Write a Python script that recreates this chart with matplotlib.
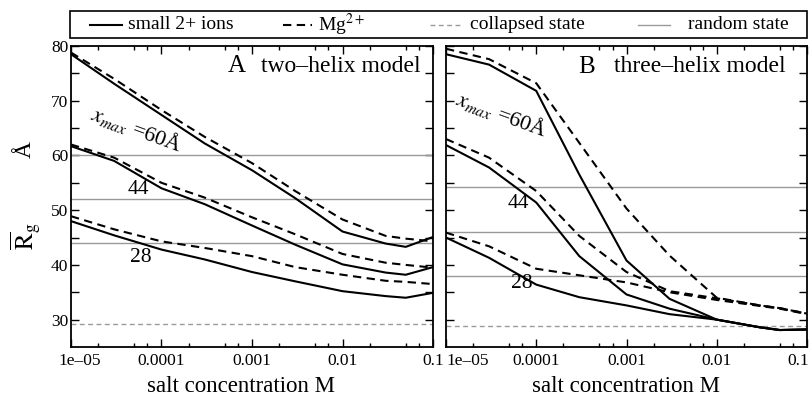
import matplotlib
matplotlib.use("Agg")
import matplotlib.pyplot as plt
import matplotlib.transforms as mtransforms
from matplotlib.lines import Line2D
from matplotlib.patches import Rectangle
from matplotlib.ticker import FixedLocator, NullFormatter, LogLocator

plt.rcParams['font.family'] = ['Liberation Serif', 'DejaVu Serif']
plt.rcParams['mathtext.fontset'] = 'stix'

# ---------------- data ----------------
salt = [1e-5, 3e-5, 1e-4, 3e-4, 1e-3, 3e-3, 1e-2, 3e-2, 5e-2, 1e-1]
xtick_vals = [1e-5, 1e-4, 1e-3, 1e-2, 1e-1]
xtick_labels = ['1e\u201305', '0.0001', '0.001', '0.01', '0.1']
ytick_vals = [30, 40, 50, 60, 70, 80]

# panel A: two-helix model
A_small_60 = [78.5, 73.1, 67.4, 62.2, 57.3, 52.2, 46.1, 43.9, 43.3, 45.1]
A_mg_60 = [78.8, 74.0, 68.3, 63.4, 58.6, 53.5, 48.3, 45.3, 44.8, 44.3]
A_small_44 = [61.7, 59.0, 54.0, 51.1, 47.2, 43.7, 40.1, 38.6, 38.2, 39.6]
A_mg_44 = [62.0, 59.6, 55.0, 52.3, 48.7, 45.6, 42.0, 40.4, 40.0, 39.5]
A_small_28 = [48.0, 45.4, 42.8, 41.0, 38.7, 37.0, 35.2, 34.3, 34.0, 34.9]
A_mg_28 = [48.9, 46.5, 44.3, 43.1, 41.6, 39.6, 38.2, 37.1, 36.9, 36.5]
A_random = [60.0, 52.0, 44.0]
A_collapsed = 29.2

# panel B: three-helix model
B_small_60 = [78.5, 76.6, 71.8, 56.5, 40.8, 33.8, 30.0, 28.6, 28.1, 28.2]
B_mg_60 = [79.5, 77.6, 73.2, 62.3, 50.3, 41.7, 34.0, 32.6, 32.1, 31.1]
B_small_44 = [61.9, 57.8, 51.4, 41.6, 34.6, 32.0, 30.0, 28.6, 28.1, 28.2]
B_mg_44 = [63.0, 59.6, 53.5, 45.3, 38.7, 35.2, 33.9, 32.6, 32.1, 31.1]
B_small_28 = [45.0, 41.3, 36.4, 34.1, 32.6, 31.0, 30.0, 28.6, 28.1, 28.2]
B_mg_28 = [45.9, 43.4, 39.3, 38.1, 36.8, 35.0, 33.6, 32.5, 32.0, 31.0]
B_random = [54.2, 46.1, 38.0]
B_collapsed = 28.8

legend_labels = ['small 2+ ions', 'Mg$^{2+}$', 'collapsed state', 'random state']

# ---------------- styles ----------------
W, H = 809, 400
solid_kw = dict(color='black', lw=1.5, ls='-')
dash_kw = dict(color='black', lw=1.5, ls=(0, (4.0, 2.6)))
rand_kw = dict(color='#9a9a9a', lw=1.0, ls='-')
coll_kw = dict(color='#9a9a9a', lw=1.0, ls=(0, (3.5, 2.5)))
styles = [solid_kw, dash_kw, coll_kw, rand_kw]

fig = plt.figure(figsize=(W / 100, H / 100), dpi=100)
axA = fig.add_axes([71 / W, 53 / H, 362 / W, 301 / H])
axB = fig.add_axes([446 / W, 53 / H, 361 / W, 301 / H])


def setup(ax, show_ylabels):
    ax.set_xscale('log')
    ax.set_xlim(1e-5, 1e-1)
    ax.set_ylim(25, 80)
    ax.xaxis.set_major_locator(FixedLocator(xtick_vals))
    ax.set_xticklabels(xtick_labels, fontsize=12.5)
    ax.xaxis.set_minor_locator(LogLocator(base=10, subs=(2, 5, 7), numticks=20))
    ax.xaxis.set_minor_formatter(NullFormatter())
    ax.yaxis.set_major_locator(FixedLocator(ytick_vals))
    ax.yaxis.set_minor_locator(FixedLocator([35, 45, 55, 65, 75]))
    if show_ylabels:
        ax.set_yticklabels([str(v) for v in ytick_vals], fontsize=12.5)
    else:
        ax.set_yticklabels([])
    ax.tick_params(which='both', direction='in', top=True, right=True, width=1.0)
    ax.tick_params(axis='x', which='major', length=6, pad=4)
    ax.tick_params(axis='x', which='minor', length=3)
    ax.tick_params(axis='y', which='both', length=6, pad=2)
    for s in ax.spines.values():
        s.set_linewidth(1.3)
    ax.set_xlabel('salt concentration M', fontsize=16.5)


setup(axA, True)
setup(axB, False)

# panel A
for yv in A_random:
    axA.axhline(yv, **rand_kw)
axA.axhline(A_collapsed, **coll_kw)
for s_, m_ in [(A_small_60, A_mg_60), (A_small_44, A_mg_44), (A_small_28, A_mg_28)]:
    axA.plot(salt, s_, **solid_kw)
    axA.plot(salt, m_, **dash_kw)

# panel B
for yv in B_random:
    axB.axhline(yv, **rand_kw)
axB.axhline(B_collapsed, **coll_kw)
for s_, m_ in [(B_small_60, B_mg_60), (B_small_44, B_mg_44), (B_small_28, B_mg_28)]:
    axB.plot(salt, s_, **solid_kw)
    axB.plot(salt, m_, **dash_kw)

# tick label alignment tweaks
lblA = axA.get_xticklabels()[0]
lblA.set_transform(lblA.get_transform() + mtransforms.ScaledTranslation(9 / 100, 0, fig.dpi_scale_trans))
lblB = axB.get_xticklabels()[0]
lblB.set_horizontalalignment('left')
lblB_last = axB.get_xticklabels()[-1]
lblB_last.set_horizontalalignment('right')
lblB_last.set_transform(lblB_last.get_transform() + mtransforms.ScaledTranslation(2 / 100, 0, fig.dpi_scale_trans))

axA.xaxis.set_label_coords((241 - 71) / 362, -0.095)
axB.xaxis.set_label_coords(0.5, -0.095)
axA.xaxis.label.set_verticalalignment('top')
axB.xaxis.label.set_verticalalignment('top')


# annotations (pixel positions converted to figure fraction)
def ftext(x, y, s, **kw):
    kw.setdefault('ha', 'center')
    kw.setdefault('va', 'center')
    fig.text(x / W, 1 - y / H, s, **kw)


ftext(237, 66, 'A', fontsize=18)
ftext(341, 66, 'two\u2013helix model', fontsize=17)
ftext(587, 67, 'B', fontsize=18)
ftext(700, 67, 'three\u2013helix model', fontsize=17)

ftext(137, 129, r'$x_{max}$ =60Å', fontsize=16, rotation=-20)
ftext(502, 114, r'$x_{max}$ =60Å', fontsize=16, rotation=-20)
ftext(138, 190, '44', fontsize=15.5)
ftext(518, 204, '44', fontsize=15.5)
ftext(141, 258, '28', fontsize=15.5)
ftext(522, 284, '28', fontsize=15.5)

ftext(25, 150, 'Å', fontsize=17, rotation=90)
ftext(26, 236, r'$\overline{\mathrm{R}}_{\mathrm{g}}$', fontsize=18, rotation=90)

# legend box drawn in figure pixel space
fig.patches.append(Rectangle((70 / W, 1 - 38 / H), 737 / W, 27 / H, transform=fig.transFigure,
                             fill=False, edgecolor='black', lw=1.2))
leg_line_x = [(90, 122), (283, 312), (430, 462), (638, 670)]
leg_text_x = [128, 318, 470, 688]
ly = 24.5
for (x0, x1), tx, lab, st in zip(leg_line_x, leg_text_x, legend_labels, styles):
    fig.lines.append(Line2D([x0 / W, x1 / W], [1 - ly / H, 1 - ly / H], transform=fig.transFigure, **st))
    ftext(tx, ly, lab, fontsize=14, ha='left')

fig.savefig('out.png', dpi=100)
